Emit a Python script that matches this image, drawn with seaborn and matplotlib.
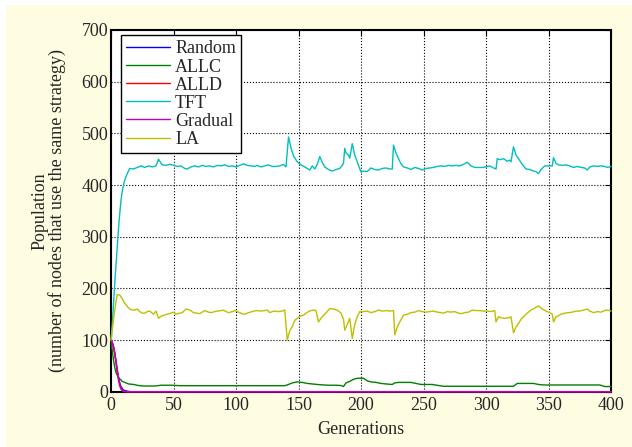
import numpy as np
import pandas as pd
import matplotlib
matplotlib.use("Agg")
import matplotlib.pyplot as plt
from matplotlib.patches import Rectangle
import seaborn as sns

# ---- data ----
random_gen = [0, 1, 2, 3, 4, 5, 6, 7, 8, 9, 10, 12, 14, 16, 400]
random_val = [100, 95, 87, 75, 58, 42, 28, 17, 10, 6, 3, 1.5, 0.5, 0, 0]

allc_gen = [0, 1, 2, 3, 4, 5, 6, 7, 9, 11, 14, 18, 22, 26, 30, 35, 40, 45, 50, 55,
            139, 142, 145, 149, 153, 157, 161, 165, 170, 175, 180, 184, 186, 188,
            191, 194, 197, 200, 202, 205, 208, 212, 216, 220, 225, 227, 230, 235,
            240, 244, 248, 252, 257, 262, 266, 322, 325, 330, 335, 338, 342, 346,
            391, 395, 400]
allc_val = [100, 80, 61, 47, 37, 32, 28, 25, 20, 18, 15, 14, 12, 11, 11, 11, 12.5, 12.5, 12.5, 11.6,
            11.6, 14, 17, 19, 18, 16, 15, 14, 13, 12.5, 12.5, 12, 10, 17,
            20, 24, 26, 26, 26, 21, 19, 18, 16, 15, 14, 17, 18, 18,
            18, 16, 14, 14, 14, 12, 10.5, 10.5, 16, 16, 16, 16, 14, 13,
            13, 10, 10]

alld_gen = [0, 1, 2, 3, 4, 5, 6, 7, 8, 9, 10, 11, 400]
alld_val = [100, 95, 85, 72, 55, 37, 22, 11, 5, 2, 0.5, 0, 0]

tft_gen = [0, 1, 2, 3, 4, 5, 6, 7, 8, 9, 10, 11, 13, 15, 18, 21, 24, 27, 30, 33,
           36, 38, 39, 41, 44, 47, 50, 53, 56, 59, 61, 64, 67, 70, 73, 76, 79, 82, 85, 88,
           91, 94, 97, 100, 103, 106, 109, 112, 115, 117, 120, 123, 126, 129, 132, 135, 138, 140, 142, 144,
           146, 149, 152, 155, 157, 159, 161, 163, 165, 167, 169, 171, 174, 177, 180, 183, 185, 186, 187, 188,
           190, 191, 193, 195, 197, 199, 200, 202, 205, 208, 211, 214, 217, 220, 223, 225, 226, 228, 230, 232,
           234, 237, 240, 243, 246, 249, 252, 255, 258, 261, 264, 267, 270, 273, 276, 279, 282, 285, 288, 291,
           294, 297, 300, 303, 306, 308, 309, 311, 314, 317, 319, 320, 322, 324, 326, 329, 332, 335, 338, 340,
           342, 344, 347, 350, 353, 354, 356, 358, 361, 364, 367, 370, 373, 376, 379, 381, 383, 386, 389, 392,
           395, 397, 400]
tft_val = [100, 130, 170, 210, 245, 280, 315, 345, 370, 388, 400, 410, 422, 432, 431, 434, 437, 434, 437, 435,
           437, 450, 446, 439, 438, 440, 438, 436, 437, 432, 431, 435, 437, 435, 438, 436, 437, 435, 438, 437,
           439, 436, 437, 435, 438, 441, 438, 437, 436, 438, 435, 437, 439, 436, 436, 437, 440, 435, 493, 472,
           456, 445, 439, 435, 432, 429, 437, 431, 440, 455, 444, 435, 430, 427, 430, 432, 438, 442, 471, 462,
           458, 452, 480, 458, 445, 432, 425, 427, 426, 433, 430, 429, 432, 433, 431, 431, 477, 462, 451, 441,
           435, 433, 430, 434, 432, 429, 432, 433, 434, 436, 437, 436, 438, 437, 438, 437, 440, 444, 437, 434,
           434, 434, 435, 437, 433, 431, 451, 449, 451, 446, 448, 445, 474, 458, 451, 440, 431, 430, 427, 426,
           422, 430, 437, 437, 437, 453, 442, 439, 438, 439, 437, 434, 436, 434, 433, 429, 435, 437, 436, 437,
           436, 434, 436]

gradual_gen = [0, 1, 2, 3, 4, 5, 6, 7, 8, 9, 10, 12, 400]
gradual_val = [100, 96, 88, 76, 60, 42, 27, 15, 7, 3, 1, 0, 0]

la_gen = [0, 2, 4, 5, 7, 9, 11, 13, 15, 17, 19, 21, 23, 25, 27, 29, 31, 33, 34, 36,
          38, 40, 42, 45, 48, 50, 52, 55, 57, 60, 63, 66, 69, 71, 73, 75, 78, 80, 83, 85,
          88, 90, 92, 94, 97, 99, 101, 103, 105, 107, 110, 113, 114, 117, 120, 123, 125, 127, 129, 131,
          134, 137, 139, 141, 143, 145, 147, 149, 151, 154, 156, 158, 160, 162, 164, 166, 168, 170, 173, 175,
          178, 181, 184, 186, 187, 189, 191, 193, 195, 197, 199, 202, 205, 208, 211, 214, 217, 220, 223, 226,
          227, 229, 231, 234, 237, 240, 243, 246, 249, 252, 255, 258, 261, 264, 266, 269, 272, 275, 278, 280,
          283, 286, 289, 292, 295, 298, 301, 304, 307, 308, 310, 312, 315, 318, 320, 322, 324, 326, 328, 330,
          333, 336, 339, 342, 345, 348, 351, 353, 354, 356, 358, 360, 363, 366, 369, 372, 375, 378, 381, 383,
          386, 389, 392, 395, 397, 400]
la_val = [100, 140, 175, 188, 187, 180, 171, 165, 160, 158, 158, 160, 155, 152, 152, 155, 156, 152, 150, 156,
          142, 146, 148, 150, 152, 154, 150, 152, 153, 160, 158, 153, 152, 151, 154, 157, 154, 153, 155, 156,
          157, 158, 155, 153, 155, 157, 155, 153, 151, 150, 153, 155, 156, 157, 156, 157, 158, 153, 155, 156,
          155, 156, 158, 100, 118, 126, 138, 142, 146, 148, 152, 155, 157, 158, 157, 135, 142, 148, 155, 161,
          160, 158, 152, 140, 119, 130, 142, 103, 130, 145, 155, 155, 156, 153, 155, 158, 156, 157, 156, 157,
          110, 125, 135, 148, 150, 153, 154, 157, 155, 154, 155, 156, 154, 153, 152, 155, 154, 155, 152, 151,
          153, 154, 158, 157, 157, 156, 156, 155, 157, 135, 145, 143, 142, 143, 145, 114, 125, 132, 140, 145,
          152, 158, 162, 166, 160, 156, 153, 150, 135, 145, 147, 150, 152, 153, 154, 156, 156, 158, 160, 156,
          153, 155, 154, 157, 158, 156]

series = [
    ("Random", random_gen, random_val, "#0000FF"),
    ("ALLC", allc_gen, allc_val, "#008000"),
    ("ALLD", alld_gen, alld_val, "#FF0000"),
    ("TFT", tft_gen, tft_val, "#00BFBF"),
    ("Gradual", gradual_gen, gradual_val, "#BF00BF"),
    ("LA", la_gen, la_val, "#BFBF00"),
]

sns.set_style("white")
plt.rcParams["font.family"] = ["Liberation Serif", "DejaVu Serif"]
font_size = 13

fig = plt.figure(figsize=(6.32, 4.47), dpi=100)
fig.patch.set_facecolor("white")
fig.patches.append(Rectangle((6 / 632, 0), 1, 1 - 5 / 447, transform=fig.transFigure,
                             facecolor="#FEFDE2", edgecolor="none", zorder=-10))

ax = fig.add_axes([111 / 632, 1 - 391.7 / 447, 500 / 632, 361.7 / 447])
ax.set_facecolor("white")

for name, g, v, c in series:
    sns.lineplot(x=g, y=v, ax=ax, color=c, linewidth=1.0, label=name,
                 estimator=None, sort=False, clip_on=False, zorder=3)

ax.set_xlim(0, 400)
ax.set_ylim(0, 700)
ax.set_xticks(np.arange(0, 401, 50))
ax.set_yticks(np.arange(0, 701, 100))
ax.grid(True, linestyle=":", color="black", linewidth=0.8)
ax.set_axisbelow(True)
ax.tick_params(axis="both", direction="in", top=True, right=True, length=4,
               width=0.8, labelsize=font_size, pad=2, color="black")
ax.tick_params(axis="x", pad=4)
for s in ax.spines.values():
    s.set_visible(True)
    s.set_color("black")
    s.set_linewidth(1.5)

ax.set_xlabel("Generations", fontsize=font_size, labelpad=5)
ax.set_ylabel("Population\n(number of nodes that use the same strategy)",
              fontsize=font_size, linespacing=0.95, labelpad=11)

leg = ax.legend(loc="upper left", bbox_to_anchor=(0.02, 0.986), fontsize=font_size,
                frameon=True, fancybox=False, framealpha=1, edgecolor="black",
                handlelength=2.4, handletextpad=0.3, labelspacing=0.06,
                borderpad=0.3, borderaxespad=0)
leg.get_frame().set_linewidth(1.0)

fig.savefig("out.png", dpi=100)
